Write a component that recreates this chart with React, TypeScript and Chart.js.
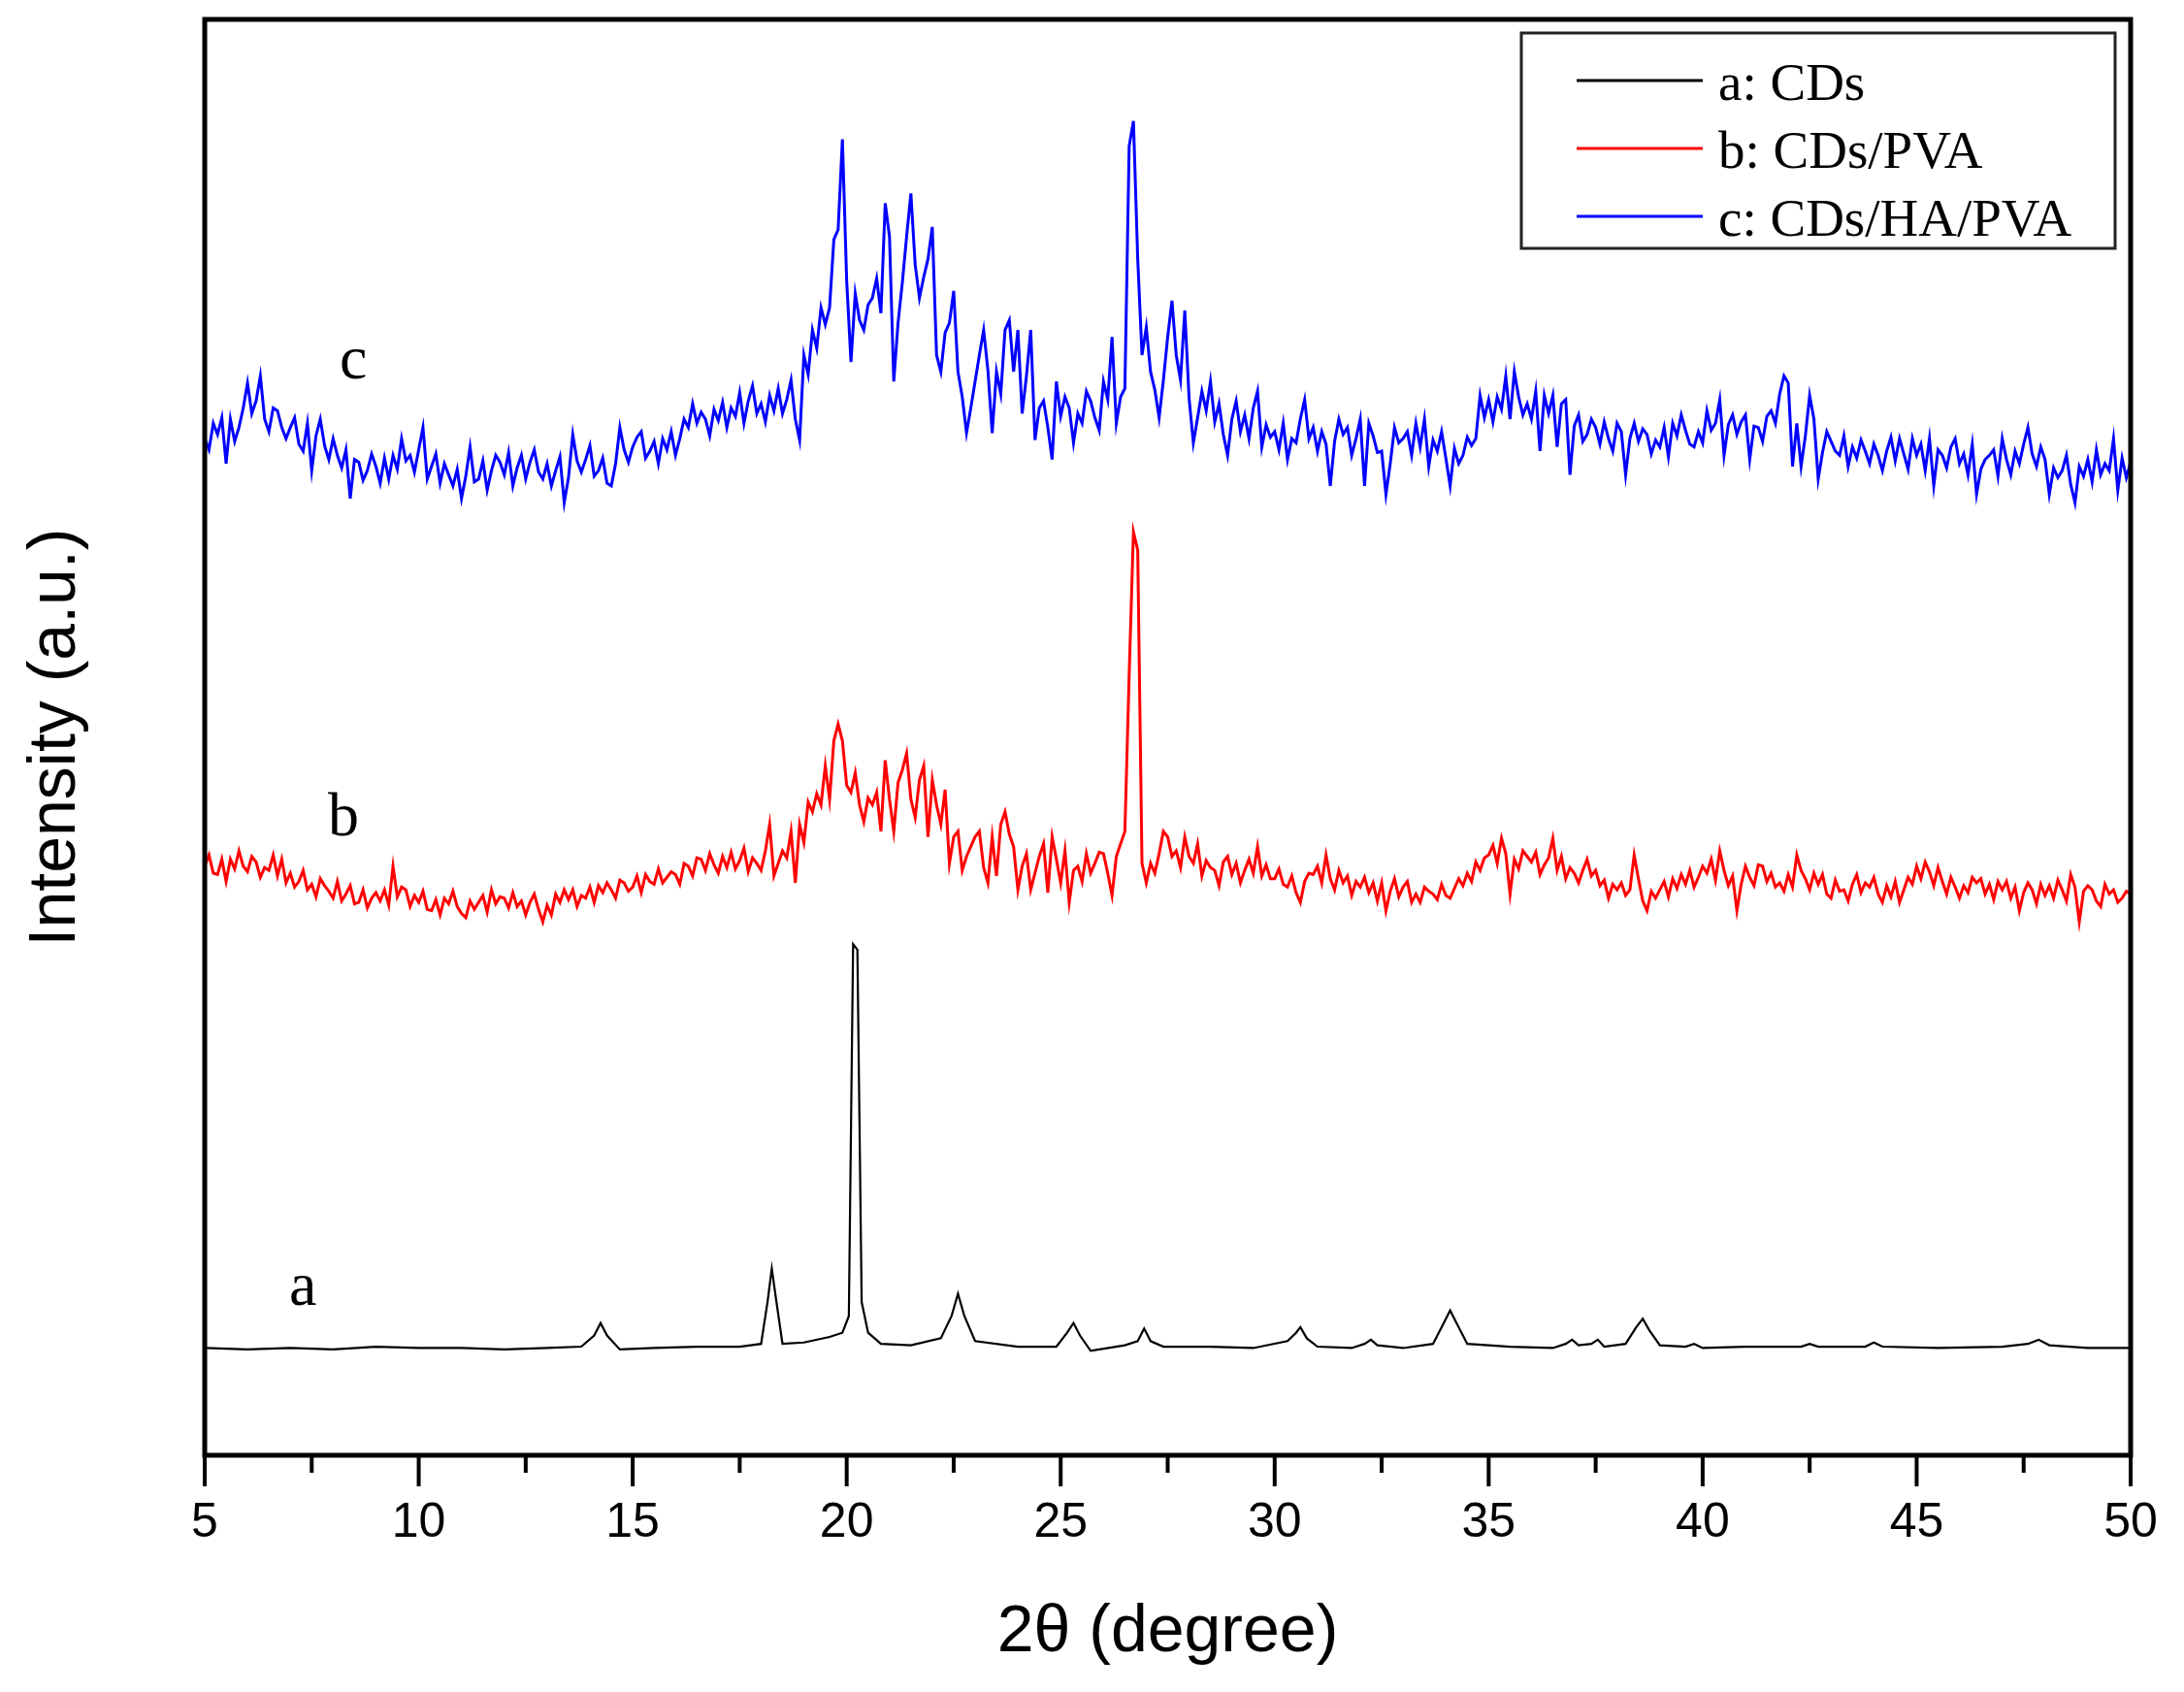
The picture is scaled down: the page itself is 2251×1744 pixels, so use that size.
import React, { useEffect, useRef } from 'react';
import Chart, { ChartConfiguration, Plugin } from 'chart.js/auto';

// 2θ sampling of the two noisy scans: 5° to 50° every 0.1°
const THETA_START = 5;
const THETA_STEP = 0.1;

// c: CDs/HA/PVA (one row per degree, 5.0 ... 5.9, 6.0 ... )
const hybridIntensity = [
	730, 722, 741, 733, 745, 712, 744, 728, 738, 752,
	770, 748, 757, 775, 744, 735, 752, 750, 738, 730,
	738, 745, 726, 721, 741, 707, 732, 744, 725, 715,
	730, 718, 709, 722, 687, 715, 713, 700, 707, 719,
	710, 698, 716, 701, 718, 708, 730, 714, 718, 706,
	722, 738, 701, 710, 719, 698, 712, 704, 696, 708,
	687, 703, 724, 699, 701, 714, 693, 707, 718, 713,
	704, 720, 696, 709, 718, 701, 713, 722, 706, 701,
	712, 696, 707, 717, 684, 702, 733, 714, 706, 715,
	725, 703, 707, 716, 698, 696, 712, 738, 722, 713,
	724, 731, 735, 716, 721, 728, 712, 730, 722, 735,
	718, 730, 744, 738, 755, 741, 749, 744, 732, 751,
	743, 756, 738, 752, 746, 763, 741, 757, 768, 748,
	755, 742, 761, 750, 766, 748, 758, 772, 744, 729,
	790, 776, 808, 795, 824, 812, 824, 873, 880, 945,
	843, 785, 834, 815, 808, 826, 831, 845, 820, 899,
	875, 771, 813, 842, 875, 906, 855, 831, 846, 859,
	882, 790, 778, 806, 813, 836, 778, 760, 734, 752,
	771, 790, 808, 779, 734, 778, 762, 808, 815, 778,
	808, 748, 775, 808, 729, 752, 757, 738, 715, 771,
	746, 760, 752, 727, 748, 741, 764, 757, 745, 736,
	771, 758, 803, 741, 760, 766, 940, 958, 859, 790,
	810, 778, 765, 745, 772, 803, 829, 790, 772, 822,
	759, 727, 745, 764, 750, 771, 742, 755, 733, 718,
	744, 757, 735, 747, 730, 752, 764, 724, 740, 731,
	735, 722, 741, 715, 730, 727, 744, 758, 730, 738,
	721, 735, 726, 696, 728, 744, 733, 738, 718, 730,
	744, 696, 741, 732, 720, 721, 690, 712, 738, 727,
	730, 735, 718, 741, 724, 744, 710, 729, 721, 735,
	716, 696, 723, 712, 718, 731, 725, 730, 761, 745,
	758, 742, 760, 751, 775, 744, 778, 760, 747, 755,
	744, 764, 721, 761, 748, 761, 724, 755, 758, 704,
	739, 747, 728, 733, 744, 738, 726, 742, 730, 721,
	741, 735, 704, 730, 741, 728, 737, 733, 719, 729,
	724, 738, 717, 741, 732, 747, 736, 726, 724, 735,
	727, 750, 736, 741, 758, 718, 740, 747, 733, 742,
	747, 715, 739, 738, 728, 746, 750, 741, 762, 775,
	770, 710, 741, 710, 732, 761, 744, 701, 720, 735,
	728, 721, 718, 732, 710, 724, 716, 729, 721, 712,
	726, 718, 707, 721, 731, 714, 730, 719, 708, 730,
	718, 726, 707, 730, 696, 722, 718, 709, 724, 730,
	712, 719, 704, 726, 690, 708, 715, 718, 722, 703,
	730, 715, 704, 721, 712, 726, 738, 719, 710, 724,
	715, 690, 709, 702, 707, 718, 697, 684, 710, 703,
	715, 699, 722, 704, 712, 707, 730, 693, 716, 702,
	713,
];

// b: CDs/PVA (same 0.1° grid)
const filmIntensity = [
	423, 431, 418, 417, 428, 412, 428, 421, 434, 423,
	419, 430, 426, 415, 422, 420, 431, 416, 428, 411,
	418, 408, 412, 420, 406, 410, 401, 414, 409, 405,
	400, 412, 398, 403, 409, 396, 397, 406, 393, 400,
	404, 398, 406, 395, 423, 401, 408, 406, 394, 402,
	397, 405, 392, 391, 399, 388, 400, 396, 405, 394,
	389, 386, 398, 392, 397, 402, 390, 406, 396, 401,
	400, 393, 404, 394, 398, 388, 397, 403, 392, 383,
	395, 388, 403, 397, 406, 399, 406, 394, 402, 400,
	408, 397, 409, 404, 411, 406, 400, 413, 411, 405,
	408, 416, 404, 417, 412, 410, 421, 411, 415, 419,
	417, 410, 425, 423, 416, 429, 428, 420, 432, 424,
	418, 430, 422, 433, 421, 427, 436, 419, 429, 425,
	420, 434, 453, 416, 425, 434, 429, 448, 411, 453,
	440, 469, 462, 475, 467, 495, 471, 513, 525, 513,
	481, 476, 490, 467, 455, 472, 467, 476, 448, 499,
	471, 448, 483, 492, 504, 471, 458, 485, 495, 444,
	485, 467, 453, 478, 425, 444, 448, 420, 430, 437,
	444, 448, 422, 411, 444, 416, 453, 462, 446, 437,
	406, 423, 432, 406, 418, 430, 439, 404, 444, 428,
	411, 434, 397, 420, 423, 412, 432, 418, 425, 433,
	432, 418, 402, 430, 439, 448, 560, 663, 650, 425,
	411, 425, 418, 432, 448, 444, 430, 434, 422, 444,
	430, 425, 439, 416, 427, 422, 420, 409, 426, 430,
	417, 425, 411, 420, 428, 418, 437, 416, 424, 414,
	414, 421, 410, 408, 416, 404, 397, 412, 418, 417,
	423, 411, 431, 414, 406, 420, 411, 416, 402, 412,
	408, 415, 404, 411, 398, 411, 391, 405, 414, 401,
	408, 412, 397, 403, 397, 408, 405, 403, 399, 410,
	402, 400, 407, 414, 409, 418, 412, 426, 420, 429,
	431, 438, 425, 443, 432, 403, 428, 421, 434, 430,
	426, 433, 417, 424, 429, 443, 420, 430, 414, 422,
	418, 411, 420, 428, 416, 420, 409, 413, 400, 410,
	406, 411, 402, 406, 431, 414, 398, 391, 405, 400,
	406, 412, 401, 414, 407, 417, 410, 420, 408, 415,
	423, 418, 428, 413, 434, 420, 409, 416, 391, 410,
	423, 415, 409, 424, 423, 412, 418, 408, 411, 405,
	417, 408, 431, 420, 414, 406, 418, 410, 417, 403,
	400, 413, 405, 406, 398, 410, 417, 404, 411, 408,
	415, 403, 397, 409, 401, 412, 397, 406, 415, 410,
	423, 414, 426, 419, 409, 422, 412, 403, 415, 408,
	400, 409, 404, 415, 411, 414, 403, 410, 399, 412,
	406, 412, 400, 408, 391, 404, 411, 406, 396, 410,
	402, 409, 400, 413, 406, 398, 417, 408, 383, 405,
	409, 406, 398, 394, 410, 403, 406, 397, 400, 405,
	403,
];

// a: CDs (flat pattern, sampled more finely around the reflections)
const cdsTheta = [
	5, 6, 7, 8, 9, 10, 11, 12, 13, 13.8,
	14.1, 14.25, 14.4, 14.7, 15.5, 16.5, 17.5, 18.0, 18.15, 18.25,
	18.35, 18.5, 19.0, 19.6, 19.9, 20.05, 20.15, 20.25, 20.35, 20.5,
	20.8, 21.5, 22.2, 22.45, 22.6, 22.75, 23.0, 24.0, 24.9, 25.15,
	25.3, 25.45, 25.7, 26.5, 26.8, 26.95, 27.1, 27.4, 28.5, 29.5,
	30.3, 30.5, 30.6, 30.75, 31.0, 31.8, 32.1, 32.25, 32.4, 33.0,
	33.7, 33.95, 34.1, 34.25, 34.5, 35.5, 36.5, 36.8, 36.95, 37.1,
	37.4, 37.55, 37.7, 38.2, 38.45, 38.6, 38.75, 39.0, 39.6, 39.8,
	40.0, 41.0, 42.3, 42.5, 42.7, 43.8, 44.0, 44.2, 45.5, 47.0,
	47.6, 47.85, 48.1, 49.0, 50,
];
const cdsIntensity = [
	77, 76, 77, 76, 78, 77, 77, 76, 77, 78,
	86, 95, 86, 76, 77, 78, 78, 80, 110, 134,
	112, 80, 81, 85, 88, 100, 367, 363, 110, 88,
	80, 79, 84, 100, 116, 100, 82, 78, 78, 88,
	95, 86, 75, 79, 82, 91, 82, 78, 78, 77,
	82, 88, 92, 84, 78, 77, 80, 83, 79, 77,
	80, 95, 104, 95, 80, 78, 77, 80, 83, 79,
	80, 83, 78, 80, 92, 98, 90, 79, 78, 80,
	77, 78, 78, 80, 78, 78, 81, 78, 77, 78,
	80, 83, 79, 77, 77,
];

const seriesNames = ['a: CDs', 'b: CDs/PVA', 'c: CDs/HA/PVA'];
const seriesColors = ['#000000', '#ff0000', '#0000ff'];

// curve letters, placed in data units (2θ, intensity)
const curveTags = [
	{ text: 'a', theta: 6.97, intensity: 108 },
	{ text: 'b', theta: 7.88, intensity: 445 },
	{ text: 'c', theta: 8.15, intensity: 773 },
];

const X_MIN = 5;
const X_MAX = 50;
const Y_MAX = 1031;

const gridTheta = hybridIntensity.map((_, i) => +(THETA_START + i * THETA_STEP).toFixed(1));
const toPoints = (xs: number[], ys: number[]) => ys.map((y, i) => ({ x: xs[i], y }));

const SANS = '"Liberation Sans", Arial, sans-serif';
const SERIF = '"Liberation Serif", "Times New Roman", serif';

const decorations: Plugin<'line'> = {
	id: 'decorations',
	beforeDraw(chart) {
		const { ctx, width, height } = chart;
		ctx.save();
		ctx.fillStyle = '#ffffff';
		ctx.fillRect(0, 0, width, height);
		ctx.restore();
	},
	afterDraw(chart) {
		const { ctx, chartArea: area, scales } = chart;
		const xScale = scales.x;
		const yScale = scales.y;
		ctx.save();

		// axis ticks (major every 5°, minor in between)
		ctx.strokeStyle = '#000';
		ctx.lineWidth = 4;
		xScale.ticks.forEach((t) => {
			const px = xScale.getPixelForValue(t.value);
			const len = t.value % 5 === 0 ? 32 : 18;
			ctx.beginPath();
			ctx.moveTo(px, area.bottom);
			ctx.lineTo(px, area.bottom + len);
			ctx.stroke();
		});

		// frame
		ctx.lineWidth = 5;
		ctx.strokeRect(area.left, area.top, area.right - area.left, area.bottom - area.top);

		// axis titles
		ctx.fillStyle = '#000';
		ctx.font = `68px ${SANS}`;
		ctx.textAlign = 'center';
		ctx.textBaseline = 'alphabetic';
		ctx.fillText('2θ (degree)', (area.left + area.right) / 2, 1702);
		ctx.save();
		ctx.translate(77, (area.top + area.bottom) / 2);
		ctx.rotate(-Math.PI / 2);
		ctx.fillText('Intensity (a.u.)', 0, 0);
		ctx.restore();

		// curve letters
		ctx.font = `64px ${SERIF}`;
		ctx.textAlign = 'left';
		curveTags.forEach((tag) => {
			ctx.fillText(tag.text, xScale.getPixelForValue(tag.theta), yScale.getPixelForValue(tag.intensity));
		});

		// legend box
		ctx.strokeStyle = '#222';
		ctx.lineWidth = 3;
		ctx.strokeRect(1568, 34, 612, 222);
		ctx.font = `55px ${SERIF}`;
		chart.data.datasets.forEach((ds, i) => {
			const y = 83 + i * 70;
			ctx.strokeStyle = ds.borderColor as string;
			ctx.lineWidth = 3;
			ctx.beginPath();
			ctx.moveTo(1625, y);
			ctx.lineTo(1755, y);
			ctx.stroke();
			ctx.fillStyle = '#000';
			ctx.fillText(ds.label as string, 1771, y + 20);
		});

		ctx.restore();
	},
};

const App: React.FC = () => {
	const canvasRef = useRef<HTMLCanvasElement | null>(null);
	const chartRef = useRef<Chart | null>(null);

	useEffect(() => {
		const canvas = canvasRef.current;
		if (!canvas) return;

		const config: ChartConfiguration<'line'> = {
			type: 'line',
			data: {
				datasets: [
					{
						label: seriesNames[0],
						data: toPoints(cdsTheta, cdsIntensity),
						borderColor: seriesColors[0],
						borderWidth: 2.2,
					},
					{
						label: seriesNames[1],
						data: toPoints(gridTheta, filmIntensity),
						borderColor: seriesColors[1],
						borderWidth: 3,
					},
					{
						label: seriesNames[2],
						data: toPoints(gridTheta, hybridIntensity),
						borderColor: seriesColors[2],
						borderWidth: 3,
					},
				],
			},
			options: {
				animation: false,
				responsive: false,
				devicePixelRatio: 1,
				layout: { padding: { top: 20, right: 55, left: 0, bottom: 0 } },
				elements: {
					point: { radius: 0 },
					line: { tension: 0, fill: false },
				},
				plugins: {
					legend: { display: false },
					tooltip: { enabled: false },
				},
				scales: {
					x: {
						type: 'linear',
						min: X_MIN,
						max: X_MAX,
						grid: { display: false, drawTicks: false },
						border: { display: false },
						ticks: {
							stepSize: 2.5,
							autoSkip: false,
							maxRotation: 0,
							padding: 40,
							color: '#000',
							font: { family: SANS, size: 50 },
							callback: (v) => (Number(v) % 5 === 0 ? String(v) : ''),
						},
						afterFit: (scale) => {
							scale.height = 244;
							scale.paddingLeft = 0;
							scale.paddingRight = 0;
						},
					},
					y: {
						type: 'linear',
						min: 0,
						max: Y_MAX,
						grid: { display: false, drawTicks: false },
						border: { display: false },
						ticks: { display: false },
						afterFit: (scale) => {
							scale.width = 211;
						},
					},
				},
			},
			plugins: [decorations],
		};

		if (chartRef.current) {
			chartRef.current.destroy();
		}
		chartRef.current = new Chart(canvas, config);

		return () => {
			if (chartRef.current) {
				chartRef.current.destroy();
				chartRef.current = null;
			}
		};
	}, []);

	return (
		<div style={{ position: 'absolute', left: 0, top: 0, width: 2251, height: 1744, background: '#fff' }}>
			<canvas ref={canvasRef} width={2251} height={1744} style={{ display: 'block', width: 2251, height: 1744 }} />
		</div>
	);
};

export default App;
